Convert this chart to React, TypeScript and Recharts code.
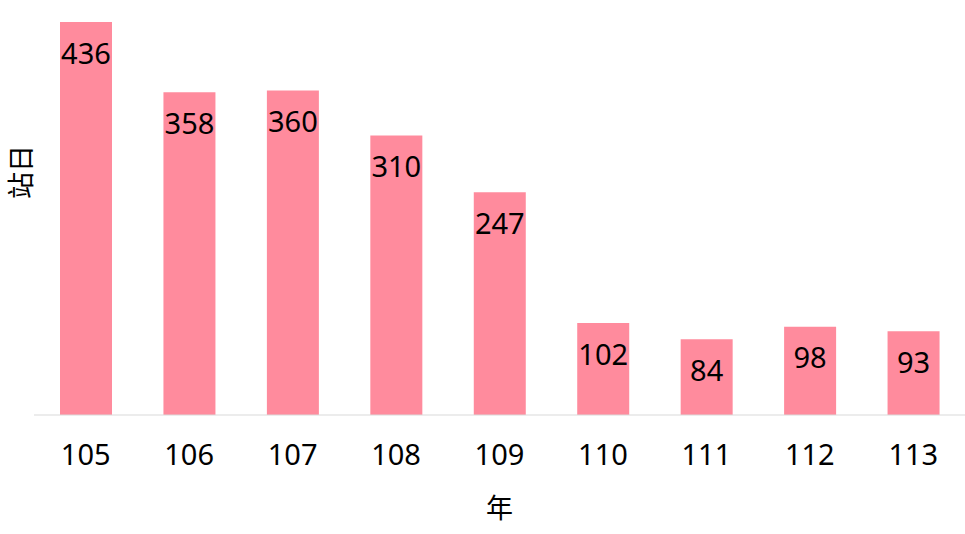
import React from 'react';
import { BarChart, Bar, XAxis, YAxis, LabelList, Label } from 'recharts';

const years = ['105', '106', '107', '108', '109', '110', '111', '112', '113'];
const values = [436, 358, 360, 310, 247, 102, 84, 98, 93];
const xTitle = '年';
const yTitle = '站日';

const data = years.map((y, i) => ({ year: y, value: values[i] }));
const FONT = '"Noto Sans", "Noto Sans CJK TC", sans-serif';

export default function App() {
  return (
    <div style={{ position: 'absolute', left: 0, top: 0, width: 965, height: 534, background: '#fff' }}>
      <BarChart width={965} height={534} data={data} margin={{ top: 22, right: 0, left: 0, bottom: 0 }} barCategoryGap="25%">
        <XAxis
          dataKey="year"
          height={119}
          tickLine={false}
          tickSize={0}
          tickMargin={29}
          axisLine={{ stroke: '#d9d9d9' }}
          tick={{ fill: '#000', fontSize: 29, fontFamily: FONT }}
        >
          <Label
            content={(props: any) => {
              const vb = props.viewBox;
              return (
                <text x={vb.x + vb.width / 2} y={vb.y + 103} textAnchor="middle" fontSize={27} fontFamily={FONT} fill="#000">
                  {xTitle}
                </text>
              );
            }}
          />
        </XAxis>
        <YAxis width={34} axisLine={false} tickLine={false} tick={false} domain={[0, 'dataMax']}>
          <Label
            content={(props: any) => {
              const vb = props.viewBox;
              const cx = 20;
              const cy = vb.y + 150;
              return (
                <text x={cx} y={cy} textAnchor="middle" dominantBaseline="central" transform={`rotate(-90, ${cx}, ${cy})`} fontSize={27} fontFamily={FONT} fill="#000">
                  {yTitle}
                </text>
              );
            }}
          />
        </YAxis>
        <Bar dataKey="value" fill="#FF8B9D" barSize={52} isAnimationActive={false}>
          <LabelList dataKey="value" position="insideTop" offset={21} fill="#000" fontSize={29} fontFamily={FONT} />
        </Bar>
      </BarChart>
    </div>
  );
}
